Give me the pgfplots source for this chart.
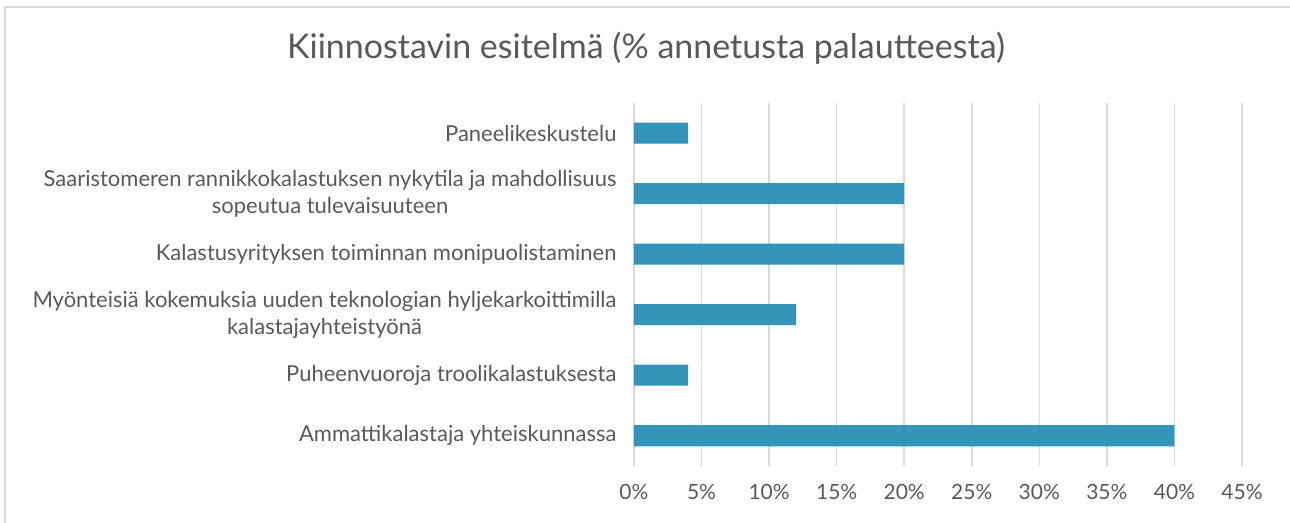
\documentclass[border=0pt]{standalone}
\usepackage{pgfplots}
\pgfplotsset{compat=1.18}
\usepackage{fontspec}
\setmainfont{Lato}
\definecolor{barblue}{RGB}{52,148,186}
\definecolor{txt}{RGB}{89,89,89}
\definecolor{gridc}{RGB}{217,217,217}
\definecolor{framec}{RGB}{217,217,217}
\begin{document}
\begin{tikzpicture}[x=1pt,y=1pt]
\useasboundingbox (0,0) rectangle (1290,522);
\draw[framec,line width=1.5pt] (5,-5) -- (5,515) -- (1295,515);
\node[txt,font=\fontsize{34}{40}\selectfont] at (646,474) {Kiinnostavin esitelmä (\% annetusta palautteesta)};
\begin{axis}[
  at={(634pt,56pt)}, anchor=south west,
  scale only axis, width=608pt, height=363pt,
  xbar, bar width=21pt,
  xmin=0, xmax=45, ymin=-0.5, ymax=5.5,
  xtick={0,5,...,45},
  xticklabels={0\%,5\%,10\%,15\%,20\%,25\%,30\%,35\%,40\%,45\%},
  ytick={0,1,2,3,4,5},
  yticklabels={Ammattikalastaja yhteiskunnassa,Puheenvuoroja troolikalastuksesta,{Myönteisiä kokemuksia uuden teknologian hyljekarkoittimilla\\kalastajayhteistyönä},Kalastusyrityksen toiminnan monipuolistaminen,{Saaristomeren rannikkokalastuksen nykytila ja mahdollisuus\\sopeutua tulevaisuuteen},Paneelikeskustelu},
  yticklabel style={align=center, font=\fontsize{22}{27}\selectfont, text=txt, xshift=-14pt},
  xticklabel style={font=\fontsize{21}{25}\selectfont, text=txt, yshift=-15pt},
  major tick length=0pt,
  axis line style={draw=none},
  xmajorgrids, ymajorgrids=false, grid style={draw=gridc, line width=1.5pt},
]
\addplot[fill=barblue, draw=none] coordinates {(40,0) (4,1) (12,2) (20,3) (20,4) (4,5)};
\end{axis}
\end{tikzpicture}
\end{document}
